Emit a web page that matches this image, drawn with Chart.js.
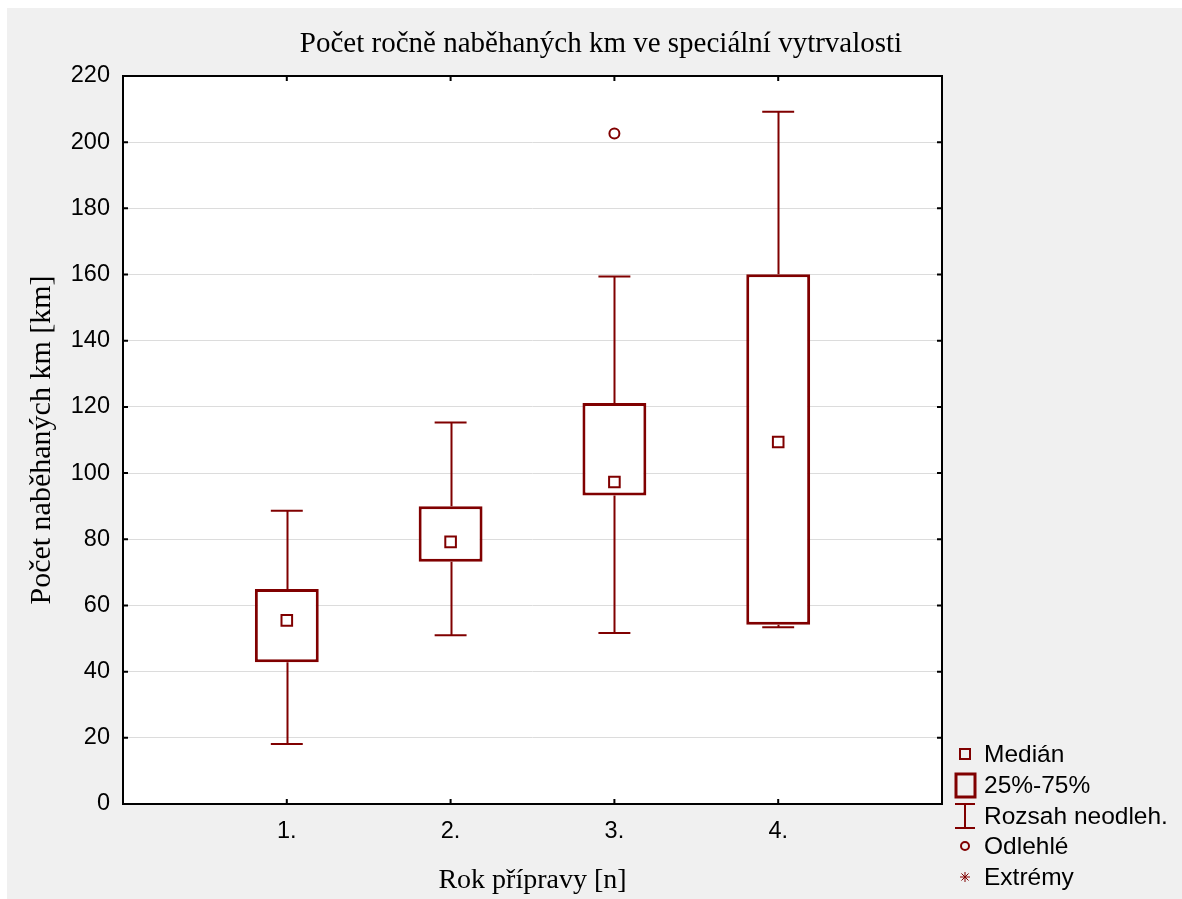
<!DOCTYPE html>
<html>
<head>
<meta charset="utf-8">
<script src="https://cdn.jsdelivr.net/npm/chart.js@4/dist/chart.umd.min.js"></script>
<style>
  html, body { margin: 0; padding: 0; background: #fff; }
  #wrap { width: 1182px; height: 899px; }
</style>
</head>
<body>
<div id="wrap"><canvas id="boxChart" width="1182" height="899"></canvas></div>
<script>
// ---- data ----
const years = ['1.', '2.', '3.', '4.'];
const whiskerLow = [18.1, 51.0, 51.7, 53.4];
const q1 = [42.8, 73.2, 93.2, 54.2];
const medians = [55.5, 79.2, 97.3, 109.4];
const q3 = [65.0, 90.0, 121.2, 160.1];
const whiskerHigh = [88.6, 115.3, 159.4, 209.2];
const outlierYear = [3];
const outlierValue = [202.6];
const legendLabels = ['Medián', '25%-75%', 'Rozsah neodleh.', 'Odlehlé', 'Extrémy'];

const RED = '#800000';
const SANS = "'Liberation Sans', Arial, sans-serif";
const SERIF = "'Liberation Serif', 'Times New Roman', serif";
const CAP_HALF = 0.0975; // whisker cap half width in x units

// background, frame, whiskers, ticks, titles and legend
const decor = {
  id: 'decor',
  beforeDraw(chart) {
    const { ctx, chartArea: a } = chart;
    ctx.save();
    ctx.fillStyle = '#ffffff';
    ctx.fillRect(0, 0, chart.width, chart.height);
    ctx.fillStyle = '#f0f0f0';
    ctx.fillRect(7, 8, chart.width - 7, chart.height - 8);
    ctx.fillStyle = '#ffffff';
    ctx.fillRect(a.left, a.top, a.right - a.left, a.bottom - a.top);
    ctx.restore();
  },
  beforeDatasetsDraw(chart) {
    const { ctx, scales: { x, y } } = chart;
    ctx.save();
    ctx.strokeStyle = RED;
    ctx.lineWidth = 2;
    years.forEach((_, i) => {
      const cx = Math.round(x.getPixelForValue(i + 1)) + 0.5;
      const l = x.getPixelForValue(i + 1 - CAP_HALF);
      const r = x.getPixelForValue(i + 1 + CAP_HALF);
      const yl = y.getPixelForValue(whiskerLow[i]);
      const yh = y.getPixelForValue(whiskerHigh[i]);
      ctx.beginPath();
      ctx.moveTo(cx, yl); ctx.lineTo(cx, y.getPixelForValue(q1[i]));
      ctx.moveTo(cx, y.getPixelForValue(q3[i])); ctx.lineTo(cx, yh);
      ctx.moveTo(l, yl); ctx.lineTo(r, yl);
      ctx.moveTo(l, yh); ctx.lineTo(r, yh);
      ctx.stroke();
    });
    ctx.restore();
  },
  afterDraw(chart) {
    const { ctx, chartArea: a, scales: { x, y } } = chart;
    ctx.save();
    // frame + inward ticks
    ctx.strokeStyle = '#000';
    ctx.lineWidth = 2;
    ctx.strokeRect(a.left, a.top, a.right - a.left, a.bottom - a.top);
    ctx.beginPath();
    y.ticks.forEach(t => {
      const py = y.getPixelForValue(t.value);
      ctx.moveTo(a.left, py); ctx.lineTo(a.left + 5, py);
      ctx.moveTo(a.right, py); ctx.lineTo(a.right - 5, py);
    });
    years.forEach((_, i) => {
      const px = x.getPixelForValue(i + 1);
      ctx.moveTo(px, a.top); ctx.lineTo(px, a.top + 5);
      ctx.moveTo(px, a.bottom); ctx.lineTo(px, a.bottom - 5);
    });
    ctx.stroke();

    // titles
    ctx.fillStyle = '#000';
    ctx.textAlign = 'center';
    ctx.textBaseline = 'alphabetic';
    ctx.font = '29px ' + SERIF;
    ctx.fillText('Počet ročně naběhaných km ve speciální vytrvalosti', 601, 52);
    ctx.font = '28px ' + SERIF;
    ctx.fillText('Rok přípravy [n]', (a.left + a.right) / 2, 888);
    ctx.save();
    ctx.font = '30px ' + SERIF;
    ctx.translate(50, (a.top + a.bottom) / 2);
    ctx.rotate(-Math.PI / 2);
    ctx.fillText('Počet naběhaných km [km]', 0, 0);
    ctx.restore();

    // legend
    const sx = 965, tx = 984;
    const cy = [754, 785, 816, 846, 877];
    ctx.strokeStyle = RED;
    ctx.lineWidth = 2;
    ctx.strokeRect(sx - 5, cy[0] - 5, 10, 10);
    ctx.lineWidth = 3;
    ctx.strokeRect(sx - 9, cy[1] - 11, 19, 23);
    ctx.lineWidth = 2;
    ctx.beginPath();
    ctx.moveTo(sx, cy[2] - 12); ctx.lineTo(sx, cy[2] + 12);
    ctx.moveTo(sx - 10, cy[2] - 12); ctx.lineTo(sx + 10, cy[2] - 12);
    ctx.moveTo(sx - 10, cy[2] + 12); ctx.lineTo(sx + 10, cy[2] + 12);
    ctx.stroke();
    ctx.beginPath();
    ctx.arc(sx, cy[3], 4, 0, Math.PI * 2);
    ctx.stroke();
    ctx.lineWidth = 1;
    ctx.beginPath();
    for (let k = 0; k < 4; k++) {
      const ang = k * Math.PI / 4;
      ctx.moveTo(sx - 5 * Math.cos(ang), cy[4] - 5 * Math.sin(ang));
      ctx.lineTo(sx + 5 * Math.cos(ang), cy[4] + 5 * Math.sin(ang));
    }
    ctx.stroke();
    ctx.fillStyle = '#000';
    ctx.textAlign = 'left';
    ctx.textBaseline = 'middle';
    ctx.font = '24.5px ' + SANS;
    legendLabels.forEach((lab, i) => ctx.fillText(lab, tx, cy[i] + 1));
    ctx.restore();
  }
};

new Chart(document.getElementById('boxChart'), {
  type: 'bar',
  data: {
    datasets: [
      {
        type: 'scatter',
        label: 'Medián',
        data: medians.map((m, i) => ({ x: i + 1, y: m })),
        pointStyle: 'rect',
        pointRadius: 7.5,
        pointBorderWidth: 2,
        pointBackgroundColor: '#ffffff',
        pointBorderColor: RED,
        order: 0
      },
      {
        type: 'scatter',
        label: 'Odlehlé',
        data: outlierValue.map((v, i) => ({ x: outlierYear[i], y: v })),
        pointStyle: 'circle',
        pointRadius: 5,
        pointBorderWidth: 2,
        pointBackgroundColor: '#ffffff',
        pointBorderColor: RED,
        order: 0
      },
      {
        label: '25%-75%',
        data: q1.map((v, i) => ({ x: i + 1, y: [v, q3[i]] })),
        backgroundColor: '#ffffff',
        borderColor: RED,
        borderWidth: 3,
        borderSkipped: false,
        barPercentage: 0.39,
        categoryPercentage: 1,
        order: 1
      }
    ]
  },
  options: {
    responsive: false,
    devicePixelRatio: 1,
    animation: false,
    layout: { padding: { left: 7, top: 76, right: 240, bottom: 55 } },
    plugins: { legend: { display: false }, tooltip: { enabled: false } },
    scales: {
      x: {
        type: 'linear',
        min: 0,
        max: 5,
        offset: false,
        grid: { display: false, drawTicks: false },
        border: { display: false },
        afterBuildTicks: s => { s.ticks = years.map((_, i) => ({ value: i + 1 })); },
        afterFit: s => { s.height = 40; },
        ticks: {
          padding: 13,
          color: '#000',
          font: { family: SANS, size: 23.5 },
          callback: v => years[v - 1] || ''
        }
      },
      y: {
        min: 0,
        max: 220,
        grid: { color: '#dcdcdc', lineWidth: 1, drawTicks: false },
        border: { display: false },
        afterFit: s => { s.width = 116; },
        ticks: {
          stepSize: 20,
          padding: 13,
          color: '#000',
          font: { family: SANS, size: 23.5 }
        }
      }
    }
  },
  plugins: [decor]
});
</script>
</body>
</html>
